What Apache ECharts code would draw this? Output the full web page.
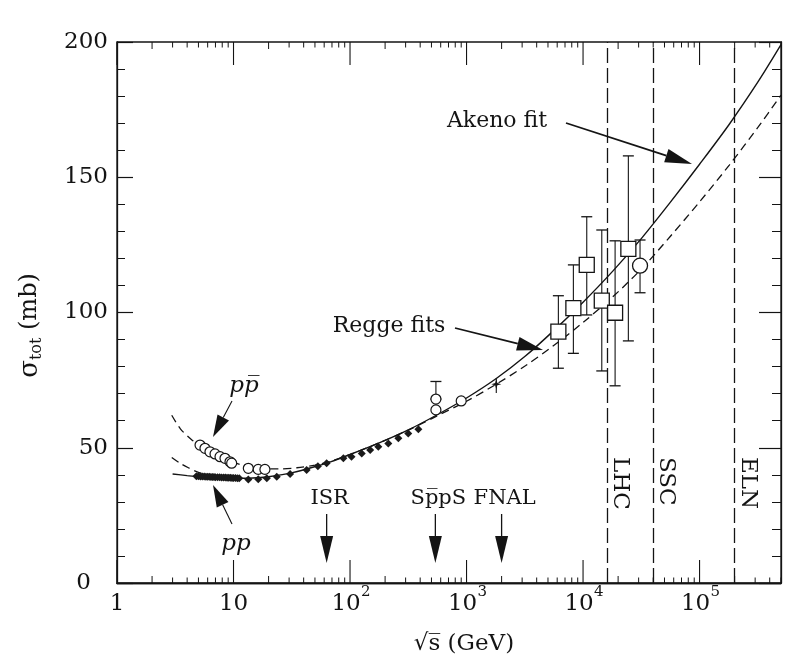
<!DOCTYPE html>
<html><head><meta charset="utf-8">
<script src="https://cdn.jsdelivr.net/npm/echarts@6/dist/echarts.min.js"></script>
<style>html,body{margin:0;padding:0;background:#fff}#c{width:811px;height:663px}</style>
</head><body><div id="c"></div>
<script>
const FONT = '"DejaVu Serif", "Liberation Serif", serif';
const INK = '#141414';

// ---- fit curves (sqrt(s) in GeV, sigma_tot in mb) ----
const solidX = [3,4,5,8,11.5,16,20,32,50,68,100,180,320,560,1000,1800,3200,5600,10000,18000,32000,56000,100000,180000,320000,500000];
const solidY = [40.3,39.7,39.3,38.9,38.7,38.9,39.3,40.8,43.0,44.8,47.5,51.9,56.7,62.2,68.4,75.6,83.9,93.3,103.8,115.3,127.6,140.7,154.8,169.6,185.5,199.0];
const dashUpX = [2.95,3.5,4.37,5.16,6,7,8.5,10,13.4,18.6,25,35,50,68,100,180,320,560,1000,1800,3200,5600,10000,18000,32000,56000,100000,180000,320000,500000];
const dashUpY = [62.0,57.0,53.0,50.8,49.0,47.5,46.0,44.6,43.0,42.3,42.2,42.6,43.6,45.0,47.5,51.9,56.6,61.8,67.2,73.5,80.3,87.8,96.3,105.8,116.3,128.1,140.9,154.5,168.7,180.4];
const dashLoX = [2.95,3.5,4.1,5,6,7];
const dashLoY = [46.4,44.2,42.6,40.9,39.9,39.5];

// ---- data points ----
const ppbarX = [5.16,5.69,6.28,6.94,7.66,8.45,9.33,9.64,13.4,16.3,18.6];
const ppbarY = [51.0,49.8,48.5,47.7,46.7,46.1,44.8,44.3,42.4,42.0,42.0];
const ppX = [4.8,5.0,5.2,5.4,5.6,5.8,6.0,6.2,6.4,6.6,6.8,7.0,7.3,7.6,7.9,8.2,8.5,8.8,9.1,9.4,9.7,10.0,10.4,10.8,11.2,13.4,16.3,19.3,23.5,30.6,42.4,53,63,87.7,103,126,149,175,213,260,316,386];
const ppY = [39.5,39.5,39.4,39.4,39.4,39.3,39.3,39.3,39.2,39.2,39.2,39.1,39.1,39.1,39.0,39.0,39.0,38.9,38.9,38.9,38.8,38.8,38.8,38.7,38.7,38.3,38.4,38.7,39.3,40.3,41.8,43.2,44.3,46.1,46.7,47.9,49.2,50.4,51.6,53.5,55.3,56.8];
const colliderX = [546,546,900];
const colliderY = [68.0,64.0,67.3];
const colliderErrX = [546];
const colliderErrLo = [68.0];
const colliderErrHi = [74.5];
const starX = [1800];
const starY = [73.5];
const starLo = [70.2];
const starHi = [75.8];
const cosmicX = [6140,8260,10760,14480,18840,24480];
const cosmicY = [92.9,101.6,117.6,104.4,99.9,123.5];
const cosmicLo = [79.4,84.9,99.1,78.4,72.9,89.5];
const cosmicHi = [106.2,117.6,135.4,130.5,126.5,157.9];
const akenoCircX = [30840];
const akenoCircY = [117.3];
const akenoCircLo = [107.3];
const akenoCircHi = [126.8];

// ---- machines and tick labels ----
const machineX = [16000,40000,200000];
const machineNames = ['LHC','SSC','ELN'];
const arrowX = [63,540,2000];
const arrowNames = ['ISR','Sp\u0305pS','FNAL'];
const xMajorTicks = [1,10,100,1000,10000,100000];
const xTickBase = ['1','10','10','10','10','10'];
const xTickExp = ['','','2','3','4','5'];
const X_MAX = 500000;

const zip = (a,b) => a.map((v,i) => [v,b[i]]);
const zip3 = (a,b,c) => a.map((v,i) => [v,b[i],c[i]]);

const chart = echarts.init(document.getElementById('c'), null, {renderer:'canvas'});

function line(x1,y1,x2,y2,w){return {type:'line',shape:{x1,y1,x2,y2},style:{stroke:INK,lineWidth:w||1.2}};}
function arrow(x1,y1,x2,y2,len,half,w){
  const dx=x2-x1, dy=y2-y1, L=Math.hypot(dx,dy), ux=dx/L, uy=dy/L;
  const bx=x2-ux*len, by=y2-uy*len;
  return [line(x1,y1,bx,by,w||1.6),
    {type:'polygon',shape:{points:[[x2,y2],[bx-uy*half,by+ux*half],[bx+uy*half,by-ux*half]]},style:{fill:INK}}];
}
function txt(s,x,y,size,extra){
  return Object.assign({type:'text',x,y,style:{text:s,fill:INK,font:size+'px '+FONT,align:'center',verticalAlign:'middle'}}, extra||{});
}

function renderTicks(params, api){
  const kids=[];
  const y0 = api.coord([1,0])[1], y1 = api.coord([1,200])[1];
  for(let i=0;i<xMajorTicks.length;i++){
    const d = xMajorTicks[i];
    const x = api.coord([d,100])[0];
    kids.push(line(x,y0,x,y0-23,1.1), line(x,y1,x,y1+23,1.1));
    for(let k=2;k<=9;k++){
      const v=k*d; if(v>X_MAX) break;
      const xm = api.coord([v,100])[0];
      const len = k===2?7:5.5;
      kids.push(line(xm,y0,xm,y0-len,1), line(xm,y1,xm,y1+len,1));
    }
    if(xTickExp[i]){
      kids.push(txt(xTickBase[i], x-4, y0+21, 23));
      kids.push({type:'text',x:x+11,y:y0+9,style:{text:xTickExp[i],fill:INK,font:'15px '+FONT,align:'left',verticalAlign:'middle'}});
    } else {
      kids.push(txt(xTickBase[i], x, y0+21, 23));
    }
  }
  return {type:'group',children:kids};
}

function makeErr(h){
  return function(params, api){
    const x = api.value(0);
    const p1 = api.coord([x, api.value(1)]), p2 = api.coord([x, api.value(2)]);
    const kids=[line(p1[0],p1[1],p2[0],p2[1],1.1)];
    if(h>0){ kids.push(line(p1[0]-h,p1[1],p1[0]+h,p1[1],1.3), line(p2[0]-h,p2[1],p2[0]+h,p2[1],1.3)); }
    return {type:'group',children:kids};
  };
}

function renderNotes(params, api){
  const kids=[];
  machineX.forEach((m,i)=>{
    const x = api.coord([m,100])[0];
    kids.push({type:'text',x:x+13,y:457,rotation:-Math.PI/2,
      style:{text:machineNames[i],fill:INK,font:'23px '+FONT,align:'left',verticalAlign:'middle'}});
  });
  arrowX.forEach((e,i)=>{
    const x = api.coord([e,100])[0];
    kids.push(txt(arrowNames[i], x+3, 499, 21));
    kids.push(...arrow(x,514,x,563,27,6.5,1.3));
  });
  kids.push(txt('Akeno fit', 497, 121, 22));
  kids.push(...arrow(566,123,692,164,27,7,1.8));
  kids.push(txt('Regge fits', 389, 326, 22));
  kids.push(...arrow(455,328,543,350,26,7,1.8));
  kids.push({type:'text',x:244,y:386,style:{text:'pp\u0305',fill:INK,font:'italic 23px '+FONT,align:'center',verticalAlign:'middle'}});
  kids.push(...arrow(232,401,213,437,22,6.5,1.1));
  kids.push({type:'text',x:236,y:544,style:{text:'pp',fill:INK,font:'italic 23px '+FONT,align:'center',verticalAlign:'middle'}});
  kids.push(...arrow(232,524,213,485,22,6.5,1.1));
  return {type:'group',children:kids};
}

const option = {
  backgroundColor:'#ffffff',
  animation:false,
  grid:{left:117,right:30,top:42,bottom:80,show:true,borderColor:INK,borderWidth:1.3,outerBoundsMode:'none'},
  xAxis:[
    {type:'log',logBase:10,min:1,max:X_MAX,
     axisLine:{show:true,lineStyle:{color:INK,width:1.3}},axisTick:{show:false},axisLabel:{show:false},splitLine:{show:false},
     name:'\u221As\u0305 (GeV)',nameLocation:'middle',nameGap:50,
     nameTextStyle:{fontFamily:FONT,fontSize:23,color:INK,padding:[0,0,0,30]}},
    {type:'log',logBase:10,min:1,max:X_MAX,position:'top',
     axisLine:{show:true,lineStyle:{color:INK,width:1.3}},axisTick:{show:false},axisLabel:{show:false},splitLine:{show:false}}
  ],
  yAxis:[
    {type:'value',min:0,max:200,interval:50,position:'left',
     axisLine:{show:true,lineStyle:{color:INK,width:1.3}},
     axisTick:{show:true,inside:true,length:16,lineStyle:{color:INK,width:1.2}},
     minorTick:{show:true,splitNumber:5,length:8,lineStyle:{color:INK,width:1}},
     splitLine:{show:false},minorSplitLine:{show:false},
     axisLabel:{fontFamily:FONT,fontSize:23,color:INK,margin:9,
       formatter:v=> v===0 ? '{z|0}' : String(v),
       rich:{z:{fontFamily:FONT,fontSize:23,color:INK,padding:[0,17,0,0]}}},
     name:'{s|\u03C3}{t|tot}{m| (mb)}',nameLocation:'middle',nameGap:72,nameRotate:90,
     nameTextStyle:{fontFamily:FONT,fontSize:24,color:INK,padding:[0,26,0,0],
       rich:{s:{fontFamily:FONT,fontSize:26,color:INK},
             t:{fontFamily:FONT,fontSize:16,color:INK,verticalAlign:'bottom',lineHeight:30},
             m:{fontFamily:FONT,fontSize:24,color:INK}}}},
    {type:'value',min:0,max:200,interval:50,position:'right',
     axisLine:{show:true,lineStyle:{color:INK,width:1.3}},
     axisTick:{show:true,inside:true,length:22,lineStyle:{color:INK,width:1.2}},
     minorTick:{show:true,splitNumber:5,length:9,lineStyle:{color:INK,width:1}},
     splitLine:{show:false},axisLabel:{show:false}}
  ],
  series:[
    {type:'custom',name:'ticks',renderItem:renderTicks,data:[[10,100]],clip:false,silent:true,z:5},
    {type:'line',name:'Akeno fit',data:zip(solidX,solidY),showSymbol:false,symbol:'none',smooth:0.3,
     lineStyle:{color:INK,width:1.4},z:3,
     markLine:{silent:true,symbol:['none','none'],label:{show:false},
       lineStyle:{type:[15,5],color:INK,width:1.3},data:machineX.map(v=>({xAxis:v}))}},
    {type:'line',name:'Regge fit (p\u0305p)',data:zip(dashUpX,dashUpY),showSymbol:false,symbol:'none',smooth:0.3,
     lineStyle:{color:INK,width:1.3,type:[8,5]},z:3},
    {type:'line',name:'Regge fit (pp)',data:zip(dashLoX,dashLoY),showSymbol:false,symbol:'none',smooth:0.3,
     lineStyle:{color:INK,width:1.3,type:[8,5]},z:3},
    {type:'custom',name:'errors',renderItem:makeErr(5.5),
     data:[...zip3(cosmicX,cosmicLo,cosmicHi),...zip3(akenoCircX,akenoCircLo,akenoCircHi),
           ...zip3(colliderErrX,colliderErrLo,colliderErrHi)],
     encode:{x:0,y:[1,2]},clip:false,silent:true,z:4},
    {type:'custom',name:'star error',renderItem:makeErr(0),data:zip3(starX,starLo,starHi),
     encode:{x:0,y:[1,2]},clip:false,silent:true,z:4},
    {type:'scatter',name:'pp',data:zip(ppX,ppY),symbol:'diamond',symbolSize:8,
     itemStyle:{color:'#1a1a1a',opacity:1},z:6},
    {type:'scatter',name:'p\u0305p',data:zip(ppbarX,ppbarY),symbol:'circle',symbolSize:10,
     itemStyle:{color:'#fff',borderColor:INK,borderWidth:1.2,opacity:1},z:7},
    {type:'scatter',name:'collider p\u0305p',data:zip(colliderX,colliderY),symbol:'circle',symbolSize:10,
     itemStyle:{color:'#fff',borderColor:INK,borderWidth:1.2,opacity:1},z:7},
    {type:'scatter',name:'FNAL',data:zip(starX,starY),symbol:'path://M0,-6 L1.3,-1.3 L6,0 L1.3,1.3 L0,6 L-1.3,1.3 L-6,0 L-1.3,-1.3Z',symbolSize:10,
     itemStyle:{color:INK,opacity:1},z:7},
    {type:'scatter',name:'cosmic',data:zip(cosmicX,cosmicY),symbol:'rect',symbolSize:15,
     itemStyle:{color:'#fff',borderColor:INK,borderWidth:1.3,opacity:1},z:7},
    {type:'scatter',name:'Akeno',data:zip(akenoCircX,akenoCircY),symbol:'circle',symbolSize:15,
     itemStyle:{color:'#fff',borderColor:INK,borderWidth:1.3,opacity:1},z:7},
    {type:'custom',name:'notes',renderItem:renderNotes,data:[[10,100]],clip:false,silent:true,z:8}
  ]
};
chart.setOption(option);
</script>
</body></html>
